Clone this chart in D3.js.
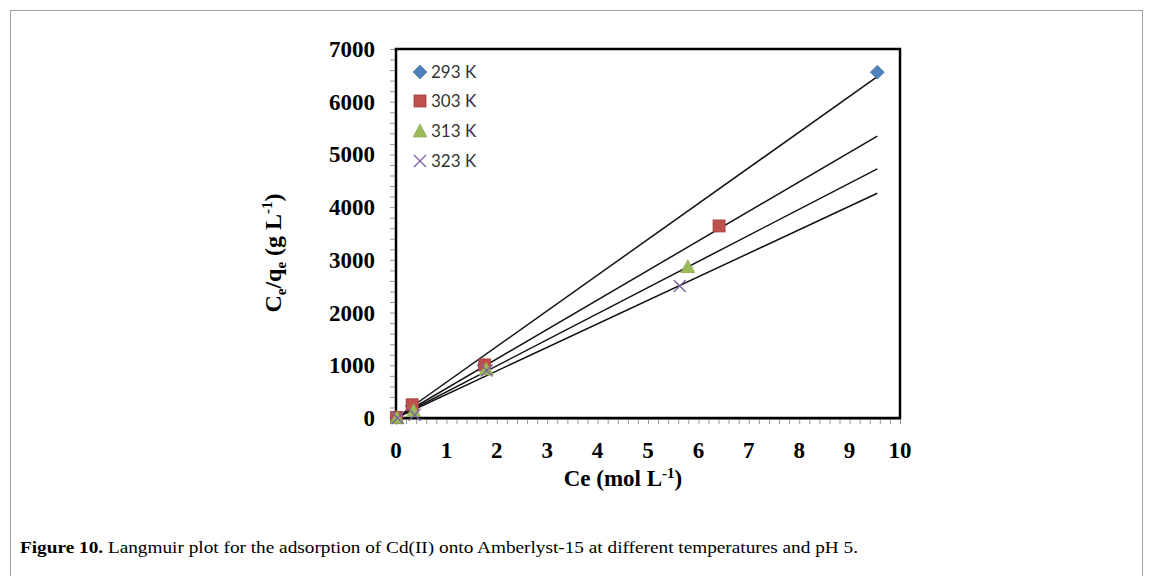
<!DOCTYPE html>
<html><head><meta charset="utf-8">
<script src="https://cdn.jsdelivr.net/npm/d3@7"></script>
<style>body{margin:0;background:#fff}svg{display:block}</style>
</head><body>
<svg id="c" width="1153" height="576"></svg>
<script>
const seriesNames = ["293 K","303 K","313 K","323 K"];
const xs293 = [0.01, 0.32, 1.75, 9.55], ys293 = [10, 230, 1000, 6560];
const xs303 = [0.01, 0.32, 1.76, 6.41], ys303 = [10, 250, 1006, 3643];
const xs313 = [0.02, 0.35, 1.79, 5.79], ys313 = [5, 140, 930, 2871];
const xs323 = [0.03, 0.37, 1.80, 5.63], ys323 = [0, 60, 900, 2505];
const trendSlopes = [678, 560, 495, 446.5];
const trendIntercepts = [0, 0, 0, 0];
const trendXRange = [0, 9.55];
const xTicks = [0,1,2,3,4,5,6,7,8,9,10];
const yTicks = [0,1000,2000,3000,4000,5000,6000,7000];
const colors = ["#4F81BD","#C0504D","#9BBB59","#8064A2"];
const symbols = ["diamond","square","triangle","cross"];

const svg = d3.select("#c");
// outer figure frame
svg.append("rect").attr("x",10.5).attr("y",10.5).attr("width",1132).attr("height",600)
  .attr("fill","none").attr("stroke","#a0a0a0").attr("stroke-width",1);

const x = d3.scaleLinear().domain([0,10]).range([396,900]);
const y = d3.scaleLinear().domain([0,7000]).range([418,49]);

// minor ticks
const xMinor = d3.range(0, 10.001, 0.2);
const yMinor = d3.range(0, 7000.1, 200);
const xAx = d3.axisBottom(x).tickValues(xMinor).tickSize(5).tickFormat("");
const yAx = d3.axisLeft(y).tickValues(yMinor).tickSize(5).tickFormat("");
const gx = svg.append("g").attr("transform","translate(0,419)").call(xAx);
const gy = svg.append("g").attr("transform","translate(395,0)").call(yAx);
[gx,gy].forEach(g=>{g.select(".domain").attr("stroke","#999");g.selectAll(".tick line").attr("stroke","#999");});

// plot box
svg.append("rect").attr("x",x(0)).attr("y",y(7000)).attr("width",x(10)-x(0)).attr("height",y(0)-y(7000))
  .attr("fill","none").attr("stroke","#000").attr("stroke-width",2.5);

// tick labels
svg.append("g").selectAll("text").data(xTicks).join("text")
  .attr("x",d=>x(d)).attr("y",458).attr("text-anchor","middle")
  .attr("font-family","Liberation Serif").attr("font-weight","bold").attr("font-size",23)
  .text(d=>d);
svg.append("g").selectAll("text").data(yTicks).join("text")
  .attr("x",375).attr("y",d=>y(d)+8).attr("text-anchor","end")
  .attr("font-family","Liberation Serif").attr("font-weight","bold").attr("font-size",23)
  .text(d=>d);

// axis titles
const xt = svg.append("text").attr("x",623).attr("y",486).attr("text-anchor","middle")
  .attr("font-family","Liberation Serif").attr("font-weight","bold").attr("font-size",23);
xt.append("tspan").text("Ce (mol L");
xt.append("tspan").attr("dy",-8).attr("font-size",15).text("-1");
xt.append("tspan").attr("dy",8).text(")");

const yt = svg.append("text").attr("transform","translate(281,253) rotate(-90)").attr("text-anchor","middle")
  .attr("font-family","Liberation Serif").attr("font-weight","bold").attr("font-size",24);
yt.append("tspan").text("C");
yt.append("tspan").attr("dy",5).attr("font-size",15).text("e");
yt.append("tspan").attr("dy",-5).text("/q");
yt.append("tspan").attr("dy",5).attr("font-size",15).text("e");
yt.append("tspan").attr("dy",-5).text(" (g L");
yt.append("tspan").attr("dy",-9).attr("font-size",15).text("-1");
yt.append("tspan").attr("dy",9).text(")");

// trendlines
trendSlopes.forEach((m,i)=>{
  const b = trendIntercepts[i];
  svg.append("line").attr("x1",x(trendXRange[0])).attr("y1",y(b+m*trendXRange[0]))
    .attr("x2",x(trendXRange[1])).attr("y2",y(b+m*trendXRange[1]))
    .attr("stroke","#111").attr("stroke-width",1.5);
});

function marker(g, kind, cx, cy, col){
  if(kind==="diamond"){
    g.append("path").attr("d",`M${cx},${cy-7}L${cx+7},${cy}L${cx},${cy+7}L${cx-7},${cy}Z`).attr("fill",col).attr("stroke","#3d6aa3").attr("stroke-width",0.6);
  } else if(kind==="square"){
    g.append("rect").attr("x",cx-6).attr("y",cy-6).attr("width",12).attr("height",12).attr("fill",col).attr("stroke","#a23d3a").attr("stroke-width",0.8);
  } else if(kind==="triangle"){
    g.append("path").attr("d",`M${cx},${cy-7}L${cx+7},${cy+6}L${cx-7},${cy+6}Z`).attr("fill",col).attr("stroke","#86a448").attr("stroke-width",0.6);
  } else {
    g.append("path").attr("d",`M${cx-6},${cy-6}L${cx+6},${cy+6}M${cx+6},${cy-6}L${cx-6},${cy+6}`).attr("stroke",col).attr("stroke-width",1.4).attr("fill","none");
  }
}
const allX=[xs293,xs303,xs313,xs323], allY=[ys293,ys303,ys313,ys323];
allX.forEach((xsArr,i)=>{
  const g = svg.append("g");
  xsArr.forEach((xv,j)=>marker(g, symbols[i], x(xv), y(allY[i][j]), colors[i]));
});

// legend
const legY = [72, 101, 131, 161];
seriesNames.forEach((n,i)=>{
  const g = svg.append("g");
  marker(g, symbols[i], 420, legY[i], colors[i]);
  g.append("text").attr("x",431).attr("y",legY[i]+6).attr("font-family","Lato").attr("font-size",17)
    .attr("fill","#333").text(n);
});

// caption
const cap = svg.append("text").attr("x",20).attr("y",553).attr("font-family","Liberation Serif").attr("font-size",17)
  .attr("textLength",838).attr("lengthAdjust","spacingAndGlyphs");
cap.append("tspan").attr("font-weight","bold").text("Figure 10.");
cap.append("tspan").text(" Langmuir plot for the adsorption of Cd(II) onto Amberlyst-15 at different temperatures and pH 5.");
</script>
</body></html>
